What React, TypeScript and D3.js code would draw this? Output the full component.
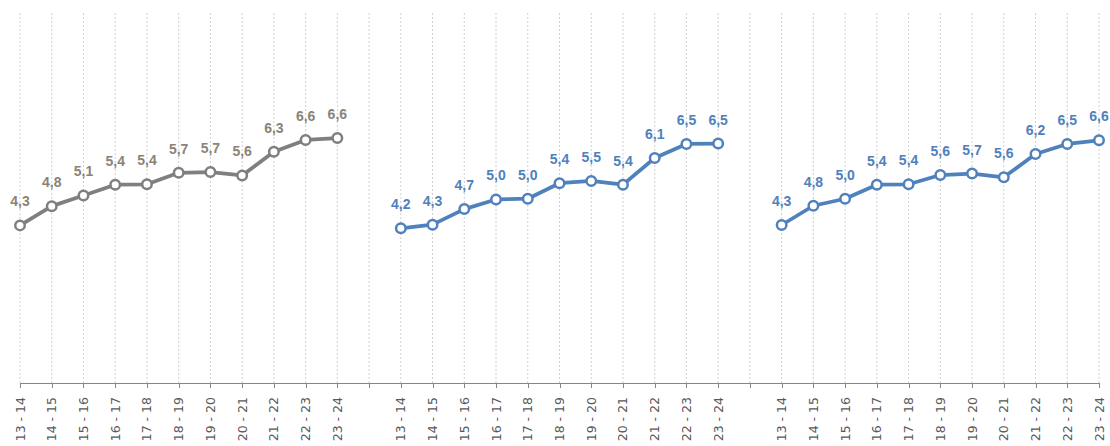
import { useRef, useEffect } from 'react';
import * as d3 from 'd3';

// school years, same for each of the three groups
const seasons = ['13 - 14', '14 - 15', '15 - 16', '16 - 17', '17 - 18', '18 - 19', '19 - 20', '20 - 21', '21 - 22', '22 - 23', '23 - 24'];

const groupA = [4.26, 4.78, 5.07, 5.36, 5.37, 5.68, 5.70, 5.61, 6.25, 6.57, 6.62];
const groupB = [4.18, 4.28, 4.70, 4.96, 4.98, 5.40, 5.46, 5.36, 6.08, 6.46, 6.47];
const groupC = [4.27, 4.79, 4.98, 5.36, 5.37, 5.62, 5.66, 5.56, 6.19, 6.46, 6.56];

const groupColors = ['#7f7f7f', '#4f81bd', '#4f81bd'];
const labelColors = ['#8a8478', '#4f81bd', '#4f81bd'];

const W = 1110;
const H = 446;

export default function App() {
  const svgRef = useRef<SVGSVGElement>(null);

  useEffect(() => {
    const svg = d3.select(svgRef.current);
    svg.selectAll('*').remove();

    const groups = [groupA, groupB, groupC];

    // one continuous category axis, one blank slot between groups
    const slots: { key: string; label: string }[] = [];
    groups.forEach((_, gi) => {
      if (gi > 0) slots.push({ key: `gap-${gi}`, label: '' });
      seasons.forEach((s, i) => slots.push({ key: `${gi}-${i}`, label: s }));
    });

    const x = d3.scalePoint<string>().domain(slots.map(s => s.key)).range([20, 1099]);
    const y = d3.scaleLinear().domain([0, 10]).range([383, 13]);

    // vertical dotted gridlines
    svg.append('g').selectAll('line').data(slots).join('line')
      .attr('x1', d => x(d.key)!).attr('x2', d => x(d.key)!)
      .attr('y1', y(10)).attr('y2', y(0))
      .attr('stroke', '#cfcfcf').attr('stroke-width', 1)
      .attr('stroke-dasharray', '2,2');

    // axis line + ticks
    svg.append('line')
      .attr('x1', x(slots[0].key)!).attr('x2', x(slots[slots.length - 1].key)!)
      .attr('y1', y(0) + 0.5).attr('y2', y(0) + 0.5)
      .attr('stroke', '#868686').attr('stroke-width', 1);
    svg.append('g').selectAll('line').data(slots).join('line')
      .attr('x1', d => Math.round(x(d.key)!) + 0.5).attr('x2', d => Math.round(x(d.key)!) + 0.5)
      .attr('y1', y(0)).attr('y2', y(0) + 5)
      .attr('stroke', '#868686').attr('stroke-width', 1);

    // rotated category labels
    svg.append('g').selectAll('text').data(slots.filter(s => s.label)).join('text')
      .attr('transform', d => `translate(${x(d.key)},397) rotate(-90)`)
      .attr('text-anchor', 'end')
      .attr('dominant-baseline', 'central')
      .attr('font-family', 'DejaVu Sans, sans-serif')
      .attr('font-size', 12.5)
      .attr('fill', '#595959')
      .text(d => d.label);

    const fmt = (v: number) => d3.format('.1f')(v).replace('.', ',');

    groups.forEach((vals, gi) => {
      const pts = vals.map((v, i) => ({ px: x(`${gi}-${i}`)!, v }));
      const line = d3.line<{ px: number; v: number }>().x(d => d.px).y(d => y(d.v));
      const g = svg.append('g');

      g.append('path').datum(pts)
        .attr('d', line).attr('fill', 'none')
        .attr('stroke', groupColors[gi]).attr('stroke-width', 3.75)
        .attr('stroke-linejoin', 'round');

      g.selectAll('circle').data(pts).join('circle')
        .attr('cx', d => d.px).attr('cy', d => y(d.v)).attr('r', 4.75)
        .attr('fill', '#fff').attr('stroke', groupColors[gi]).attr('stroke-width', 2.5);

      g.selectAll('text').data(pts).join('text')
        .attr('x', d => d.px).attr('y', d => y(d.v) - 19)
        .attr('text-anchor', 'middle')
        .attr('font-family', 'Liberation Sans, Arial, sans-serif')
        .attr('font-weight', 'bold')
        .attr('font-size', 14)
        .attr('fill', labelColors[gi])
        .text(d => fmt(d.v));
    });
  }, []);

  return (
    <div style={{ position: 'absolute', left: 0, top: 0, width: W, height: H, background: '#fff' }}>
      <svg ref={svgRef} width={W} height={H} style={{ display: 'block' }} />
    </div>
  );
}
